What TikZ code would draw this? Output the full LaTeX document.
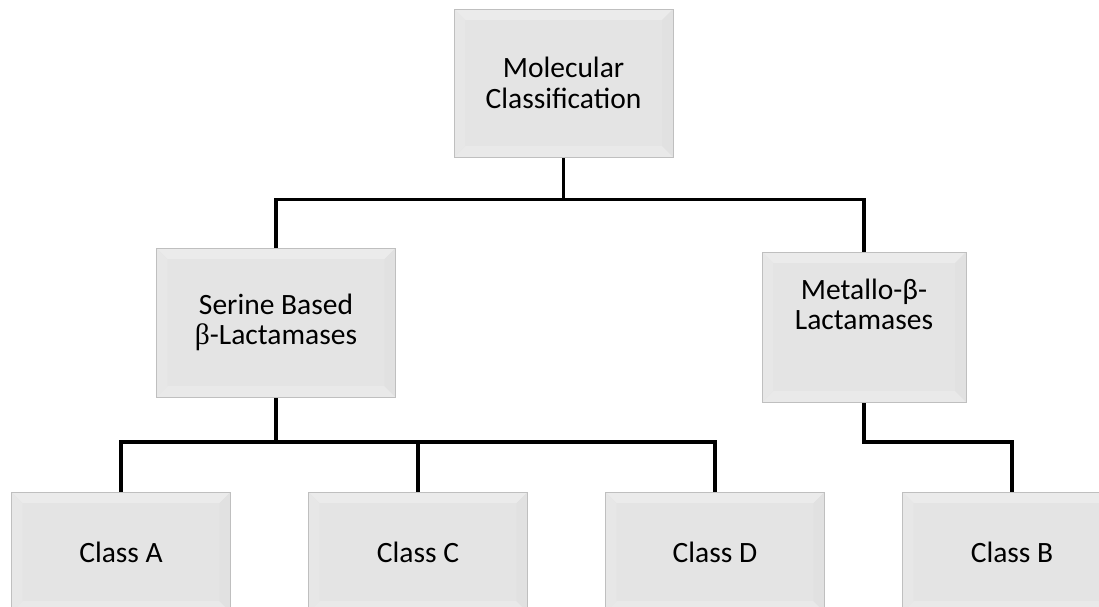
\documentclass[tikz,border=0pt]{standalone}
\usepackage{fontspec}
\setmainfont{Carlito}
\newfontfamily\symbfont{Liberation Serif}
\usetikzlibrary{positioning,backgrounds}

\definecolor{boxfill}{HTML}{E4E4E4}
\definecolor{boxline}{HTML}{BFBFBF}
\definecolor{bevtop}{HTML}{EBEBEB}
\definecolor{bevbot}{HTML}{E9E9E9}
\definecolor{bevleft}{HTML}{E7E7E7}
\definecolor{bevright}{HTML}{E1E1E1}

\begin{document}
\begin{tikzpicture}[x=1pt,y=-1pt,
    node distance=77pt,
    every node/.style={font=\fontsize{29.5}{30.5}\selectfont},
    level/.style={rectangle,draw=boxline,line width=1pt,fill=boxfill,align=center,inner sep=0pt,
      minimum width=219pt,minimum height=148pt,
      path picture={
        \path (path picture bounding box.north west) coordinate (bnw)
              (path picture bounding box.south east) coordinate (bse);
        \fill[bevtop] (bnw) -- (bnw -| bse) -- ([shift={(-11pt,-11pt)}]bnw -| bse) -- ([shift={(11pt,-11pt)}]bnw) -- cycle;
        \fill[bevbot] (bse) -- (bse -| bnw) -- ([shift={(11pt,11pt)}]bse -| bnw) -- ([shift={(-11pt,11pt)}]bse) -- cycle;
        \fill[bevleft] (bnw) -- ([shift={(11pt,-11pt)}]bnw) -- ([shift={(11pt,11pt)}]bse -| bnw) -- (bse -| bnw) -- cycle;
        \fill[bevright] (bnw -| bse) -- ([shift={(-11pt,-11pt)}]bnw -| bse) -- ([shift={(-11pt,11pt)}]bse) -- (bse) -- cycle;
      }},
    classbox/.style={level,minimum height=120pt},
    conn/.style={draw=black,line width=3.5pt}
]

% Canvas
\path[use as bounding box,clip] (0,0) rectangle (1099,606);

% Top level
\node[level] (mol) at (563.5,83) {Molecular\\Classification};

% Second level
\node[level,minimum width=239pt,minimum height=149pt] (serine) at (276,322.5) {Serine Based\\{\symbfont β}-Lactamases};
\node[level,minimum width=204pt,minimum height=150pt,text depth=46pt] (metallo) at (864,327) {Metallo-β-\\Lactamases};

% Classes
\node[classbox] (classA) at (121,552) {Class A};
\node[classbox,right=of classA] (classC) {Class C};
\node[classbox,right=of classC] (classD) {Class D};
\node[classbox,right=of classD] (classB) {Class B};

% Connections
\begin{scope}[on background layer]
\fill[white] (0,0) rectangle (1099,606);
\draw[conn] (mol.south) -- ++(0,42) coordinate (hubtop);
\draw[conn] (serine.north) |- (hubtop) -| (metallo.north);
\draw[conn] (serine.south) -- ++(0,44.5) coordinate (hubser);
\draw[conn] (classA.north) |- (hubser) -| (classD.north);
\draw[conn] (classC.north) -- (classC.north |- hubser);
\draw[conn] (metallo.south) -- (metallo.south |- hubser) -| (classB.north);
\end{scope}

\end{tikzpicture}
\end{document}
